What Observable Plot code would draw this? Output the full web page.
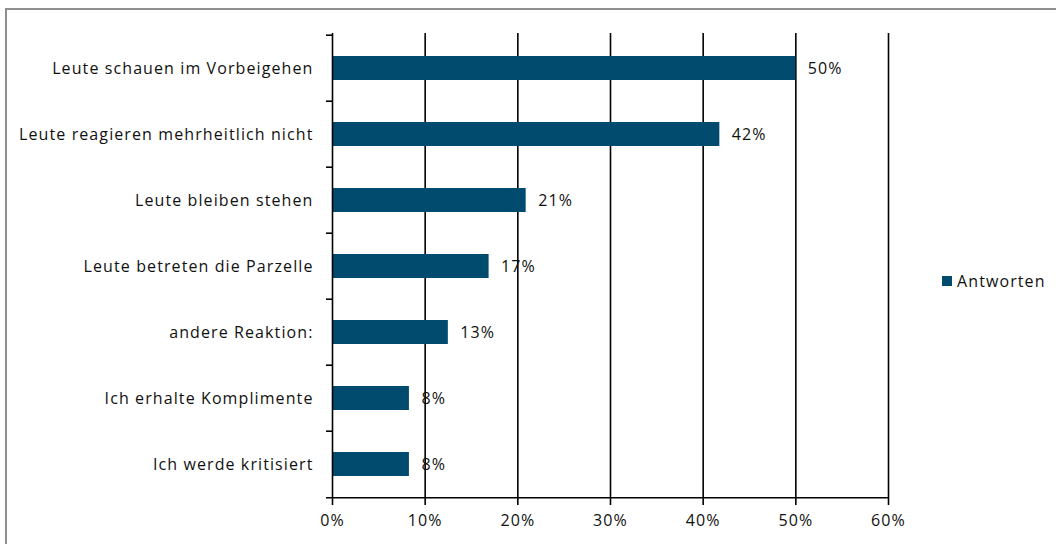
<!DOCTYPE html>
<html>
<head>
<meta charset="utf-8">
<script src="https://cdn.jsdelivr.net/npm/d3@7"></script>
<script src="https://cdn.jsdelivr.net/npm/@observablehq/plot@0.6"></script>
<style>
  body { margin: 0; background: #fff; }
  #wrap { position: relative; width: 1056px; height: 544px; overflow: hidden; font-family: "Open Sans", sans-serif; }
  #frame { position: absolute; left: 5px; top: 8px; width: 1100px; height: 600px; border: 2px solid #8f8f8f; box-sizing: border-box; }
  #chart { position: absolute; left: 0; top: 0; }
  #legend { position: absolute; left: 942px; top: 270px; font-size: 16px; letter-spacing: 1.1px; color: #111; display: flex; align-items: center; gap: 5px; }
  #legend .sw { width: 10px; height: 10px; background: #004b6e; }
  #chart svg text { letter-spacing: 1.1px; }
</style>
</head>
<body>
<div id="wrap">
  <div id="frame"></div>
  <div id="chart"></div>
  <div id="legend"><span class="sw"></span><span>Antworten</span></div>
</div>
<script>
const categories = [
  "Leute schauen im Vorbeigehen",
  "Leute reagieren mehrheitlich nicht",
  "Leute bleiben stehen",
  "Leute betreten die Parzelle",
  "andere Reaktion:",
  "Ich erhalte Komplimente",
  "Ich werde kritisiert"
];
const values = [0.50, 0.418, 0.209, 0.169, 0.125, 0.083, 0.083];
const labels = ["50%", "42%", "21%", "17%", "13%", "8%", "8%"];
const xTicks = [0, 0.1, 0.2, 0.3, 0.4, 0.5, 0.6];
const seriesName = "Antworten";

const data = categories.map((c, i) => ({cat: c, value: values[i], label: labels[i]}));

const W = 1056, H = 544;
const mL = 332, mR = 168, mT = 33, mB = 45;
const step = (H - mT - mB) / categories.length;

const chart = Plot.plot({
  width: W,
  height: H,
  marginLeft: mL,
  marginRight: mR,
  marginTop: mT,
  marginBottom: mB,
  style: {fontFamily: "'Open Sans', sans-serif", fontSize: "16px", color: "#111", background: "transparent"},
  x: {domain: [0, 0.6], ticks: xTicks, tickFormat: d3.format(".0%"), label: null},
  y: {domain: categories, paddingInner: 0.64, paddingOuter: 0.32, label: null},
  marks: [
    Plot.ruleX(xTicks.slice(1), {stroke: "#000", strokeWidth: 1.6}),
    Plot.barX(data, {y: "cat", x: "value", fill: "#004b6e"}),
    Plot.text(data, {y: "cat", x: "value", text: "label", dx: 12, textAnchor: "start", fill: "#111", fontSize: 16}),
    Plot.ruleX([0], {stroke: "#000", strokeWidth: 1.6}),
    Plot.ruleY(categories.slice(-1), {y: d => d, x1: 0, x2: 0.6, insetLeft: -6, dy: step / 2, stroke: "#000", strokeWidth: 1.6}),
    Plot.ruleY(categories, {y: d => d, x1: 0, x2: 0, insetLeft: -6, dy: -step / 2, stroke: "#000", strokeWidth: 1.6}),
    Plot.axisX({ticks: xTicks, tickFormat: d3.format(".0%"), tickSize: 6, tickPadding: 9, stroke: "#000", strokeWidth: 1.6, fontSize: 16, label: null}),
    Plot.axisY({tickSize: 0, tickPadding: 19, fontSize: 16, label: null})
  ]
});
document.getElementById("chart").appendChild(chart);
</script>
</body>
</html>
